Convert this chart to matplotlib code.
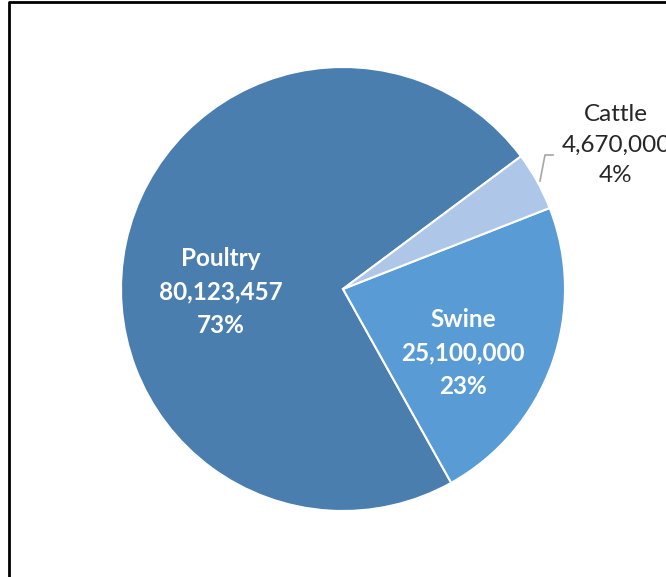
import matplotlib.pyplot as plt
from matplotlib.lines import Line2D

categories = ["Poultry", "Swine", "Cattle"]
values = [80123457, 25100000, 4670000]
colors = ["#4A7EAE", "#589BD5", "#AEC6E8"]

plt.rcParams['font.family'] = ['Lato', 'DejaVu Sans']

fig = plt.figure(figsize=(6.66, 5.77), dpi=100)
ax = fig.add_axes([0, 0, 1, 1])

cx, cy, r = 343, 288, 222
wedges, _ = ax.pie(values, colors=colors, startangle=36.7, counterclock=True,
                   center=(cx, cy), radius=r, frame=True,
                   wedgeprops=dict(edgecolor='white', linewidth=1.5))
ax.set_xlim(0, 666)
ax.set_ylim(0, 577)
ax.set_aspect('equal')
ax.axis('off')

total = sum(values)


def label_text(name, v):
    return f"{name}\n{v:,}\n{v / total:.0%}"


# label positions in pixel coords (x, y from bottom)
spots = [(221, 577 - 292), (463, 577 - 353), (616, 577 - 145)]
for i, (name, v) in enumerate(zip(categories, values)):
    x, y = spots[i]
    if name == "Cattle":
        ax.text(x, y, label_text(name, v), ha='center', va='center',
                fontsize=17.5, color='#262626', linespacing=1.57)
    else:
        ax.text(x, y, label_text(name, v), ha='center', va='center',
                fontsize=17.5, fontweight='bold', color='white', linespacing=1.57)

# leader line for Cattle
ax.plot([540, 545, 553], [577 - 181, 577 - 155, 577 - 155], color='#a6a6a6', lw=1.2)

# chart border
fig.add_artist(Line2D([8.5 / 666, 8.5 / 666, 1.0], [0.0, 1 - 1.5 / 577, 1 - 1.5 / 577],
                      transform=fig.transFigure, color='black', lw=2))

fig.savefig("out.png", dpi=100)
